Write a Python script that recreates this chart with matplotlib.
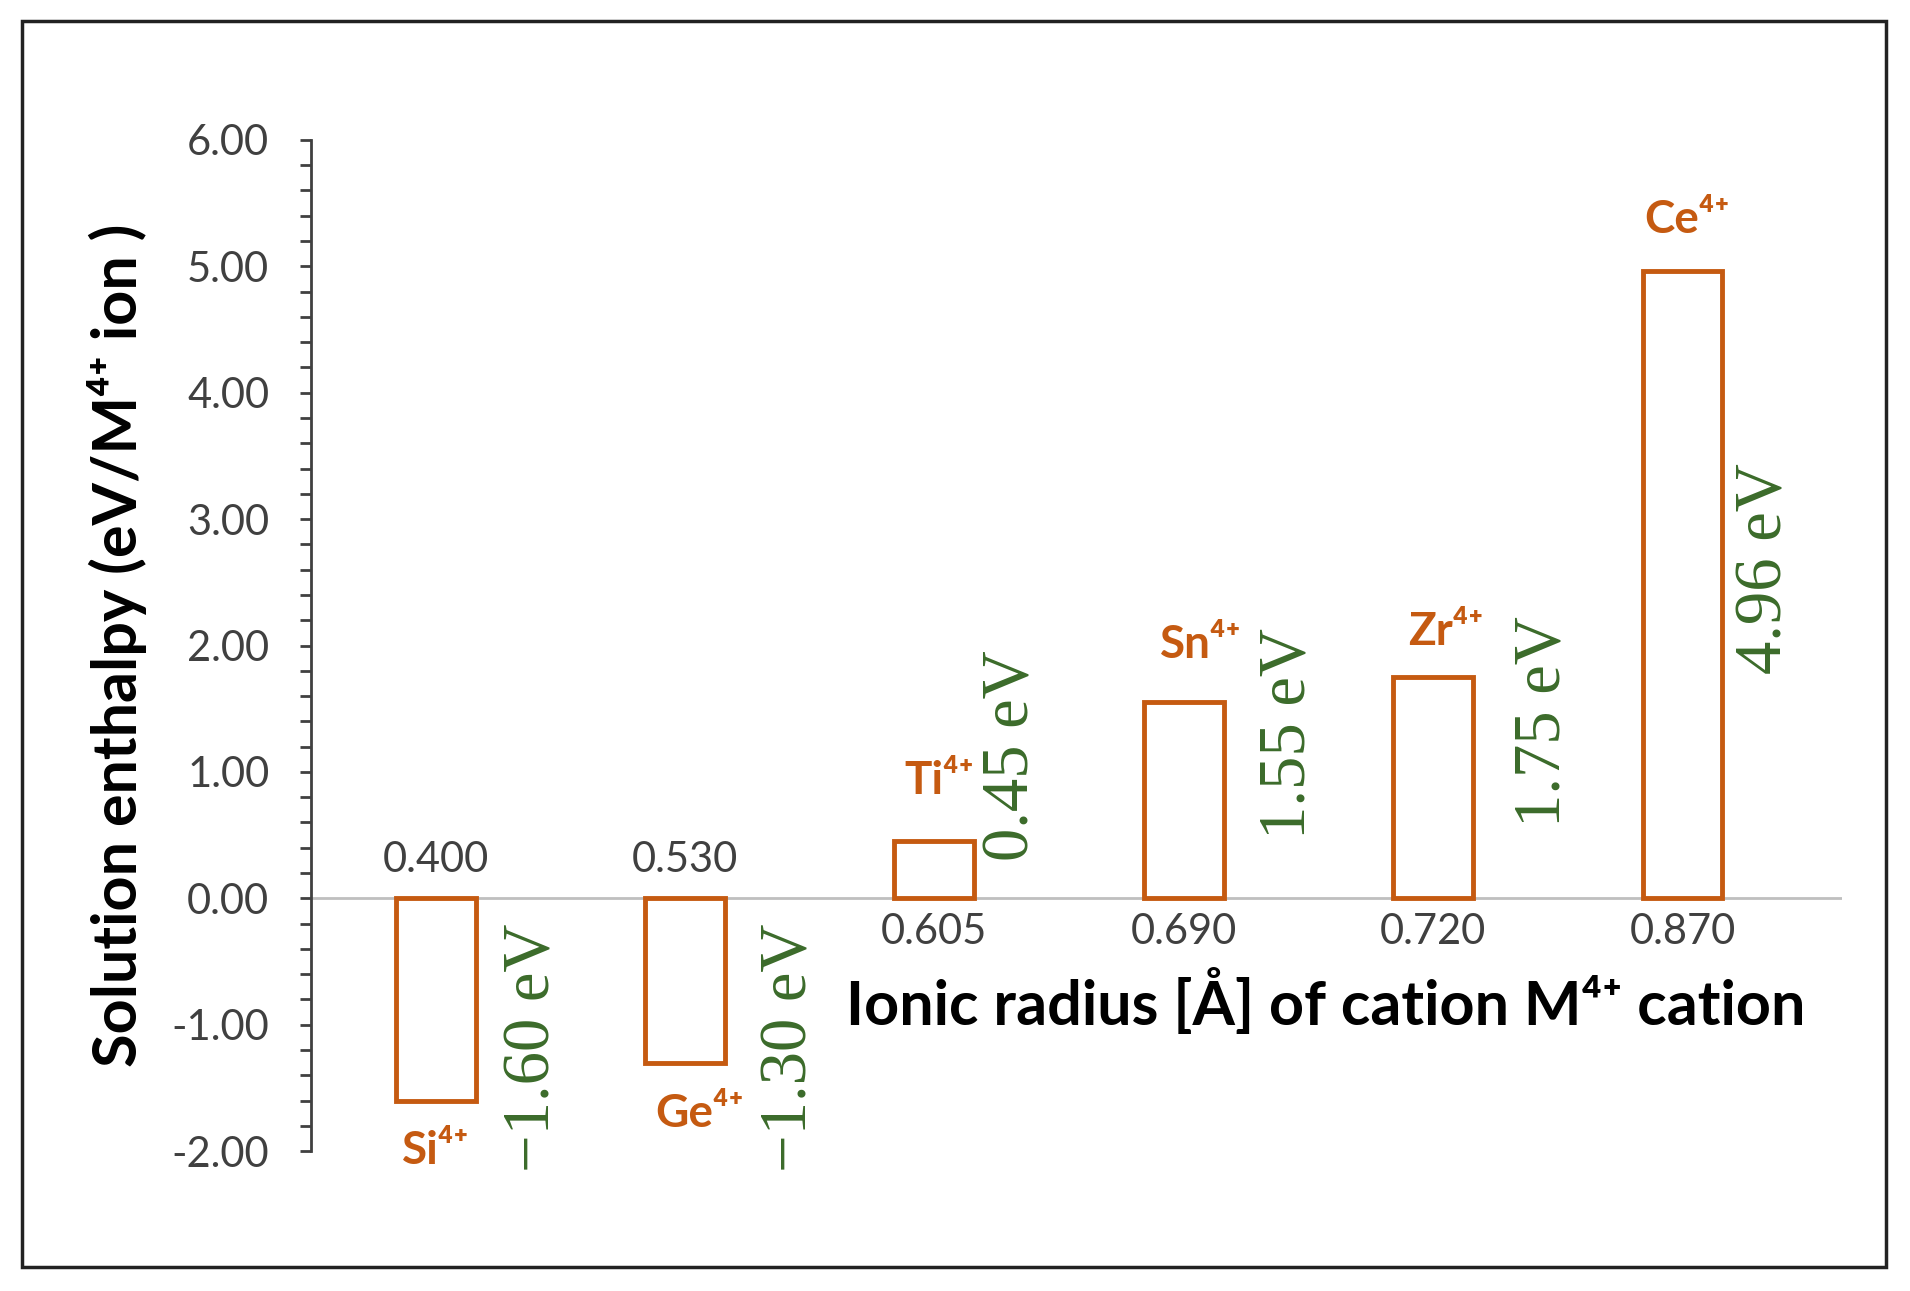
import matplotlib
matplotlib.use("Agg")
import matplotlib.pyplot as plt
from matplotlib.patches import Rectangle
from matplotlib.ticker import MultipleLocator, FormatStrFormatter

plt.rcParams['font.family'] = ['Lato', 'DejaVu Sans']

# ---- data ----
cations = ["Si", "Ge", "Ti", "Sn", "Zr", "Ce"]
radii = ["0.400", "0.530", "0.605", "0.690", "0.720", "0.870"]
enthalpy = [-1.60, -1.30, 0.45, 1.55, 1.75, 4.96]
value_labels = ["\u22121.60 eV", "\u22121.30 eV", "0.45 eV", "1.55 eV", "1.75 eV", "4.96 eV"]

# label anchor positions (data coords)
cation_label_x = [0.0, 1.06, 2.02, 3.07, 4.05, 5.02]
cation_label_y = [-2.00, -1.71, 0.93, 2.00, 2.11, 5.37]
value_label_x = [0.39, 1.42, 2.31, 3.42, 4.44, 5.33]
value_label_y = [-1.18, -1.18, 1.13, 1.30, 1.40, 2.61]

ORANGE = "#C55A11"
GREEN = "#3B6B2A"
GREY = "#404040"
SUP = "\u2074\u207A"

fig = plt.figure(figsize=(19.10, 12.91), dpi=100)
fig.patches.append(Rectangle((0.0115, 0.0186), 0.9759, 0.9651, transform=fig.transFigure,
                             fill=False, edgecolor="#222222", linewidth=2.5))

ax = fig.add_axes([0.1628, 0.1084, 0.8016, 0.7832])
x = list(range(len(cations)))
ax.bar(x, enthalpy, width=0.32, facecolor="white", edgecolor=ORANGE, linewidth=3.5, zorder=3)
ax.axhline(0, color="#BFBFBF", linewidth=2, zorder=2)

ax.set_xlim(-0.5, 5.64)
ax.set_ylim(-2.0, 6.0)
for s in ["top", "right", "bottom"]:
    ax.spines[s].set_visible(False)
ax.spines["left"].set_color(GREY)
ax.spines["left"].set_linewidth(2)
ax.set_xticks([])
ax.yaxis.set_major_locator(MultipleLocator(1.0))
ax.yaxis.set_minor_locator(MultipleLocator(0.2))
ax.yaxis.set_major_formatter(FormatStrFormatter("%.2f"))
ax.tick_params(axis="y", which="both", direction="out", length=8, width=2, color=GREY,
               labelsize=30, labelcolor=GREY, pad=22)

ax.set_ylabel("Solution enthalpy (eV/M" + SUP + " ion )", fontsize=44, fontweight="bold",
              color="black", labelpad=18)

# radius labels
for i, (r, v) in enumerate(zip(radii, enthalpy)):
    yy = 0.30 if v < 0 else -0.27
    ax.text(i, yy, r, ha="center", va="center", fontsize=30, color=GREY)

# cation labels
for name, cx, cy in zip(cations, cation_label_x, cation_label_y):
    ax.text(cx, cy, name + SUP, ha="center", va="center", fontsize=33,
            fontweight="bold", color=ORANGE)

# value labels (rotated)
for lab, vx, vy in zip(value_labels, value_label_x, value_label_y):
    ax.text(vx, vy, lab, ha="center", va="center", rotation=90, fontsize=48,
            fontweight="normal", color=GREEN, family=["Liberation Serif", "DejaVu Serif"])

ax.text(3.57, -0.82, "Ionic radius [Å] of cation M" + SUP + " cation", ha="center", va="center",
        fontsize=44, fontweight="bold", color="black")

fig.savefig("out.png", dpi=100, facecolor="white")
